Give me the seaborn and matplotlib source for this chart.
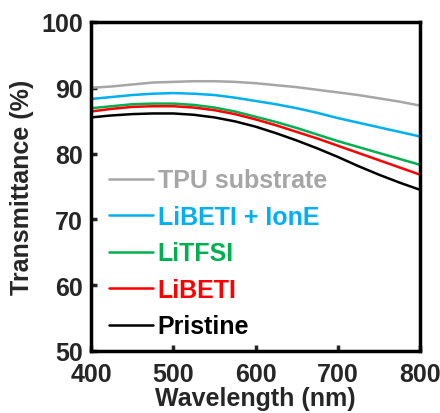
import numpy as np
import pandas as pd
import matplotlib
matplotlib.use('Agg')
import matplotlib.pyplot as plt
import seaborn as sns

# Wavelength grid (nm)
wavelength = [400, 425, 450, 475, 500, 525, 550, 575, 600, 625, 650, 675, 700, 725, 750, 775, 800]

# Transmittance (%)
tpu = [90.0, 90.2, 90.5, 90.8, 90.9, 91.0, 91.0, 90.9, 90.7, 90.4, 90.1, 89.7, 89.3, 88.9, 88.4, 87.9, 87.3]
libeti_ione = [88.3, 88.6, 88.9, 89.1, 89.2, 89.1, 88.9, 88.5, 88.0, 87.5, 86.9, 86.2, 85.4, 84.7, 84.0, 83.3, 82.6]
litfsi = [86.9, 87.2, 87.5, 87.6, 87.6, 87.4, 87.0, 86.4, 85.6, 84.8, 83.9, 82.9, 81.9, 81.0, 80.1, 79.2, 78.3]
libeti = [86.4, 86.8, 87.1, 87.2, 87.2, 87.0, 86.6, 86.0, 85.2, 84.3, 83.3, 82.3, 81.2, 80.1, 79.0, 77.9, 76.8]
pristine = [85.5, 85.8, 86.0, 86.1, 86.1, 85.9, 85.5, 84.9, 84.1, 83.1, 82.0, 80.8, 79.5, 78.1, 76.8, 75.6, 74.5]

labels = ['TPU substrate', 'LiBETI + IonE', 'LiTFSI', 'LiBETI', 'Pristine']
colors = ['#A6A6A6', '#00B0F0', '#00B050', '#FF0000', '#000000']

series = [tpu, libeti_ione, litfsi, libeti, pristine]
df = pd.concat([
    pd.DataFrame({'Wavelength': wavelength, 'T': vals, 'Sample': lab})
    for lab, vals in zip(labels, series)
], ignore_index=True)

sns.set_style('ticks')
plt.rcParams['font.family'] = ['Liberation Sans', 'DejaVu Sans']
plt.rcParams['font.weight'] = 'bold'

fig, ax = plt.subplots(figsize=(4.4, 4.14), dpi=100)
fig.subplots_adjust(left=91/440, right=420/440, top=1-23/414, bottom=1-352/414)

sns.lineplot(data=df, x='Wavelength', y='T', hue='Sample', hue_order=labels,
             palette=dict(zip(labels, colors)), linewidth=1.8, ax=ax)

ax.set_xlim(400, 800)
ax.set_ylim(50, 100)
ax.set_xticks([400, 500, 600, 700, 800])
ax.set_yticks([50, 60, 70, 80, 90, 100])
ax.tick_params(direction='in', length=4, width=2.5, labelsize=18)
ax.tick_params(axis='x', pad=8)
ax.tick_params(axis='y', pad=6)
for lab in ax.get_xticklabels() + ax.get_yticklabels():
    lab.set_fontweight('bold')
for sp in ax.spines.values():
    sp.set_linewidth(2.5)
    sp.set_color('black')

ax.set_xlabel('Wavelength (nm)', fontsize=18, fontweight='bold', labelpad=0)
ax.set_ylabel('Transmittance (%)', fontsize=18, fontweight='bold', labelpad=5)

leg = ax.legend(loc='lower left', frameon=False, fontsize=18, handlelength=1.75,
                handletextpad=0.2, labelspacing=0.5, borderaxespad=0.1,
                bbox_to_anchor=(0.017, 0.0))
for text, c in zip(leg.get_texts(), colors):
    text.set_color(c)
    text.set_fontweight('bold')

fig.savefig('out.png', dpi=100)
